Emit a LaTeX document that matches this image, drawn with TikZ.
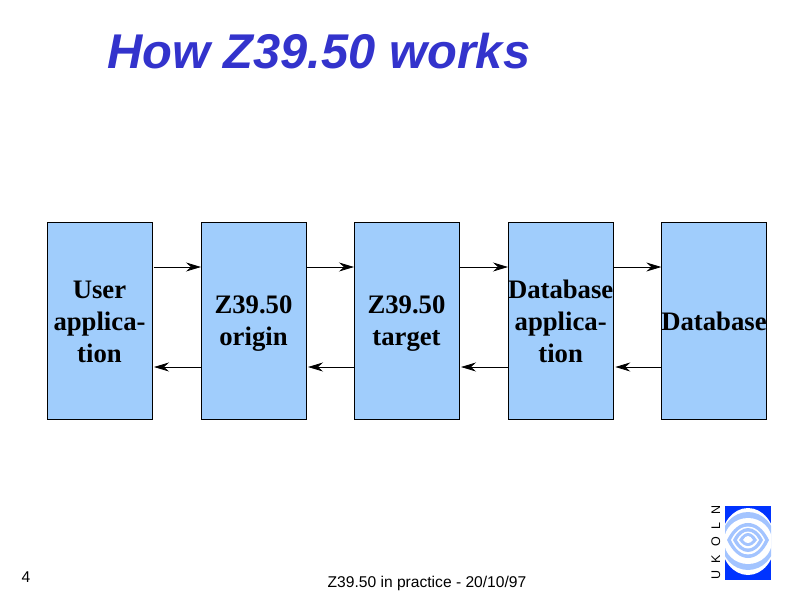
\documentclass[tikz,border=0pt]{standalone}
\usepackage{fontspec}
\setmainfont{Liberation Serif}
\newfontfamily\slidesans{Liberation Sans}
\usetikzlibrary{arrows.meta,positioning}
\definecolor{cBox}  {HTML}{A0CDFC}
\definecolor{cTitle}{HTML}{3333CC}
\definecolor{cLogo} {HTML}{0033FF}
\definecolor{cRing} {HTML}{A3C4FF}
\newcommand{\toprow}{\rule{0pt}{24pt}}

\begin{document}
\begin{tikzpicture}[
  x=1pt, y=-1pt,
  box/.style={
    draw=black, fill=cBox, line width=0.9pt, outer sep=0pt, inner sep=0pt,
    align=center, minimum width=105pt, minimum height=197pt,
    font=\fontsize{26.7}{32}\selectfont\bfseries,
    execute at end node={\rule[-5pt]{0pt}{5pt}}},
  ar/.style ={-{Stealth[length=15pt,width=9pt,inset=5pt]}, draw=black, line width=0.8pt},
  foot/.style={font=\fontsize{15.6}{18}\selectfont\slidesans, inner sep=0pt},
  ring/.style={fill=cRing, draw=none},
  hole/.style={fill=white, draw=none},
]
\useasboundingbox (0,0) rectangle (800,600);

% ---------------------------------------------------------------- title
\node[anchor=base west, inner sep=0pt, text=cTitle,
  font=\fontsize{48.8}{56}\selectfont\slidesans\bfseries\itshape] (title) at (107,68) {How Z39.50 works};

% ---------------------------------------------------------------- boxes
\node[box] (user) at (99.5,320.5) {\toprow User\\applica-\\tion};
\node[box, right=49pt of user]     (origin) {\toprow Z39.50\\origin};
\node[box, right=48pt of origin]   (target) {\toprow Z39.50\\target};
\node[box, right=49pt of target]   (dbapp)  {\toprow Database\\applica-\\tion};
\node[box, right=48pt of dbapp]    (db)     {\toprow Database};

% ---------------------------------------------------------------- arrows
\draw[ar, shorten <=1.5pt] ([yshift=53.5pt]user.east)   -- ([yshift=53.5pt]origin.west);
\draw[ar]                  ([yshift=53.5pt]origin.east) -- ([yshift=53.5pt]target.west);
\draw[ar]                  ([yshift=53.5pt]target.east) -- ([yshift=53.5pt]dbapp.west);
\draw[ar]                  ([yshift=53.5pt]dbapp.east)  -- ([yshift=53.5pt]db.west);

\draw[ar, shorten >=2pt] ([yshift=-46.5pt]origin.west) -- ([yshift=-46.5pt]user.east);
\draw[ar, shorten >=2pt] ([yshift=-46.5pt]target.west) -- ([yshift=-46.5pt]origin.east);
\draw[ar, shorten >=2pt] ([yshift=-46.5pt]dbapp.west)  -- ([yshift=-46.5pt]target.east);
\draw[ar, shorten >=2pt] ([yshift=-46.5pt]db.west)     -- ([yshift=-46.5pt]dbapp.east);

% ---------------------------------------------------------------- footer
\node[foot, anchor=base] (page) at (26,582) {4};
\node[foot, anchor=base] (foot) at (427,587) {Z39.50 in practice - 20/10/97};

% ---------------------------------------------------------------- logo
\begin{scope}
  \clip (725,506) rectangle (771,580);
  \fill[cLogo] (725,506) rectangle (771,580);
  \fill[hole] (748,541.5) ellipse (27 and 33.5);
  \fill[ring] (748,541) ellipse (27 and 29);
  \fill[hole] (748,541) ellipse (24 and 23);
  \fill[ring] (727,540) .. controls (738,517.3) and (758,517.3) .. (769,540)
              .. controls (758,564) and (738,564) .. (727,540) -- cycle;
  \fill[hole] (731,540) .. controls (740,522) and (756,522) .. (765,540)
              .. controls (756,559.3) and (740,559.3) .. (731,540) -- cycle;
  \fill[ring] (733,540) .. controls (741,524) and (755,524) .. (763,540)
              .. controls (755,556) and (741,556) .. (733,540) -- cycle;
  \fill[hole] (737,540) .. controls (743,528.7) and (753,528.7) .. (759,540)
              .. controls (753,551.3) and (743,551.3) .. (737,540) -- cycle;
  \fill[ring] (739,540) .. controls (745,530.7) and (751,530.7) .. (757,540)
              .. controls (751,548) and (745,548) .. (739,540) -- cycle;
  \fill[hole] (743,540) .. controls (746,534.7) and (750,534.7) .. (753,540)
              .. controls (750,544) and (746,544) .. (743,540) -- cycle;
\end{scope}
\node[rotate=90, anchor=base west, inner sep=0pt,
  font=\fontsize{12.5}{14}\selectfont\slidesans\addfontfeatures{LetterSpace=62}] (ukoln) at (720,580) {UKOLN};

\end{tikzpicture}
\end{document}
